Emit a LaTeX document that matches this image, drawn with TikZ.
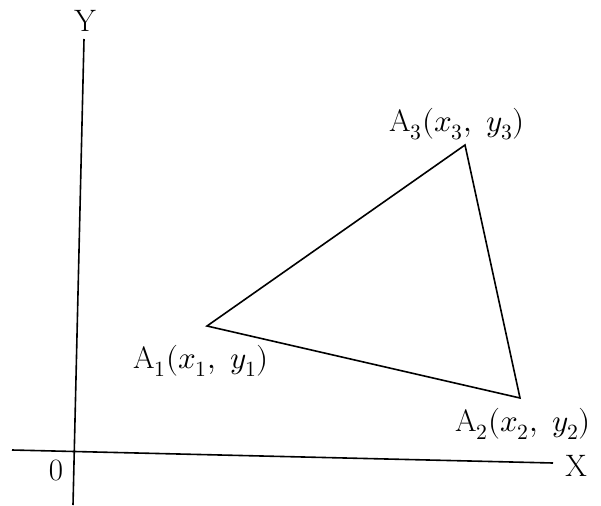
\documentclass[tikz,border=0pt]{standalone}
\usepackage{fontspec}
\usepackage{unicode-math}
\setmathfont{Latin Modern Math}
\begin{document}
\begin{tikzpicture}[x=1pt,y=-1pt,
  axis/.style={line width=1.6pt,black},
  tri/.style={line width=1.6pt,black,line join=miter},
  lbl/.style={inner sep=0pt,font=\fontsize{31}{34}\selectfont}]
\useasboundingbox (0,0) rectangle (601,505);
% axes
\coordinate (ytop) at (84,39);
\coordinate (ybot) at (73,505);
\coordinate (xleft) at (12,450);
\coordinate (xright) at (553,463);
\draw[axis] (ytop) -- (ybot);
\draw[axis] (xleft) -- (xright);
\node[lbl] (Ylab) at (85,21) {Y};
\node[lbl] (Xlab) at (576,466) {X};
\node[lbl] (Olab) at (56,470) {0};
% triangle
\coordinate (A1) at (207,326);
\coordinate (A2) at (520,398);
\coordinate (A3) at (465,145);
\draw[tri] (A1) -- (A2) -- (A3) -- cycle;
\node[lbl,anchor=west] (L3) at (389,124) {A$_3(x_3,\ y_3)$};
\node[lbl,anchor=west] (L1) at (133,361) {A$_1(x_1,\ y_1)$};
\node[lbl,anchor=west] (L2) at (455,424) {A$_2(x_2,\ y_2)$};
\end{tikzpicture}
\end{document}
